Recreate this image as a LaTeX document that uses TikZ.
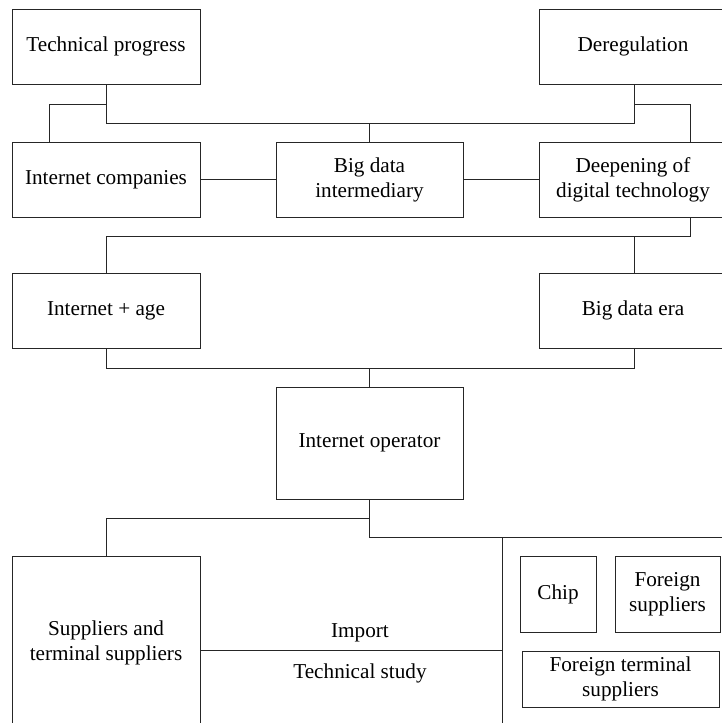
\documentclass[tikz,border=0pt]{standalone}
\usepackage{fontspec}
\setmainfont{Liberation Serif}
\begin{document}
\begin{tikzpicture}[x=1pt,y=-1pt,
  line width=1pt, draw=black!85,
  every node/.style={font=\fontsize{21.2}{25}\selectfont, align=center, inner sep=0pt},
  box/.style={draw=black!85, line width=1pt, rectangle, inner sep=0pt}]
\useasboundingbox (0,0) rectangle (721,723);
% boxes
\node[box, minimum width=188pt, minimum height=75pt] (tp) at (106,46.5) {Technical progress};
\node[box, minimum width=188pt, minimum height=75pt] (dereg) at (633,46.5) {Deregulation};
\node[box, minimum width=188pt, minimum height=75pt] (ic) at (106,179.5) {Internet companies};
\node[box, minimum width=187pt, minimum height=75pt] (bdi) at (369.5,179.5) {Big data\\intermediary};
\node[box, minimum width=188pt, minimum height=75pt] (deep) at (633,179.5) {Deepening of\\digital technology};
\node[box, minimum width=188pt, minimum height=75pt] (ia) at (106,310.5) {Internet + age};
\node[box, minimum width=188pt, minimum height=75pt] (bde) at (633,310.5) {Big data era};
\node[box, minimum width=187pt, minimum height=112pt] (io) at (369.5,443) {Internet operator};
\node[box, minimum width=188pt, minimum height=174pt] (sup) at (106,643) {Suppliers and\\terminal suppliers};
\node[box, minimum width=76pt, minimum height=76pt] (chip) at (558,594) {Chip};
\node[box, minimum width=105pt, minimum height=76pt] (fs) at (667.5,594) {Foreign\\suppliers};
\node[box, minimum width=197pt, minimum height=56pt] (fts) at (620.5,679) {Foreign terminal\\suppliers};
% junction coordinates
\coordinate (tpd) at (106,123);
\coordinate (drs) at (634,84);
\coordinate (drd) at (634,123);
\coordinate (tpb) at (106,104);
\coordinate (drb) at (634,104);
\coordinate (ict) at (49,142);
\coordinate (dpt) at (690,142);
\coordinate (mid1) at (369.5,123);
\coordinate (dps) at (690,217);
\coordinate (r3) at (690,236);
\coordinate (r3l) at (106,236);
\coordinate (r3m) at (634,236);
\coordinate (bdet) at (634,273);
\coordinate (bdes) at (634,348);
\coordinate (r4l) at (106,368);
\coordinate (r4r) at (634,368);
\coordinate (r4m) at (369.5,368);
\coordinate (r5b) at (369.5,537);
\coordinate (r5e) at (725,537);
\coordinate (r5a) at (369.5,518);
\coordinate (r5l) at (106,518);
\coordinate (vt) at (502,537);
\coordinate (vb) at (502,725);
\coordinate (imp) at (502,650);
% connectors
\draw (tp.south) -- (tpd) -- (drd) -- (drs);
\draw (tpb) -| (ict);
\draw (drb) -| (dpt);
\draw (mid1) -- (bdi.north);
\draw (ic.east) -- (bdi.west);
\draw (bdi.east) -- (deep.west);
\draw (dps) -- (r3) -- (r3l) -- (ia.north);
\draw (r3m) -- (bdet);
\draw (ia.south) -- (r4l) -- (r4r) -- (bdes);
\draw (r4m) -- (io.north);
\draw (io.south) -- (r5b) -- (r5e);
\draw (r5a) -- (r5l) -- (sup.north);
\draw (vt) -- (vb);
\draw (sup.east |- imp) -- (imp);
% labels
\node (limp) at (360,633) {Import};
\node (lts) at (360,673) {Technical study};
\end{tikzpicture}
\end{document}
